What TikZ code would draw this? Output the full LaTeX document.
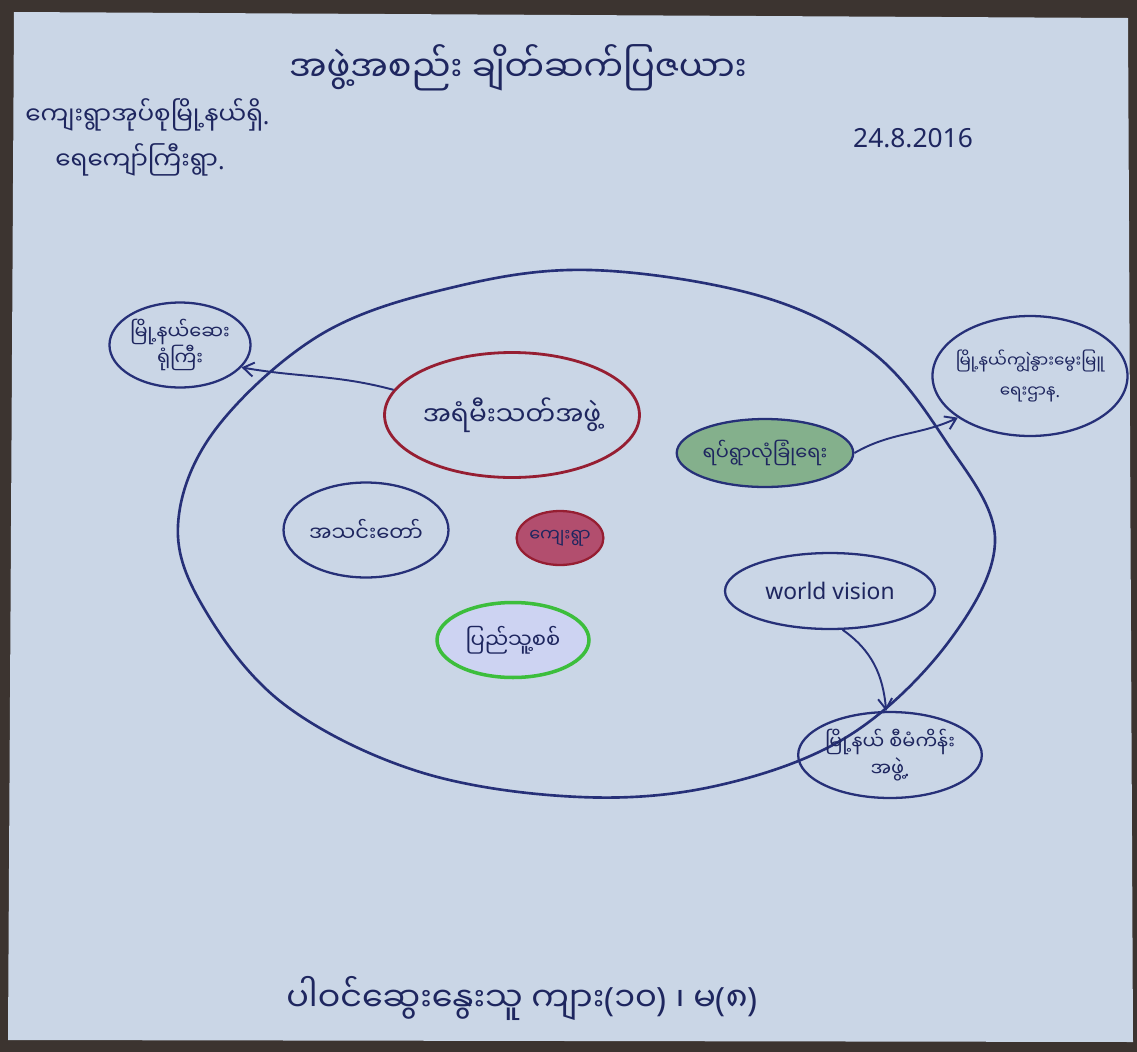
\documentclass[tikz,border=0pt]{standalone}
\usepackage{fontspec}
\newfontfamily\mm[Script=Myanmar]{Noto Sans Myanmar UI}
\newfontfamily\lt{Noto Sans}
\newcommand{\LPar}{{\lt(}}
\newcommand{\RPar}{{\lt)}}
\newcommand{\Dot}{{\lt.}}
\usetikzlibrary{arrows.meta,shapes.geometric}
\definecolor{paper}{RGB}{202,214,230}
\definecolor{edge}{RGB}{60,52,48}
\definecolor{ink}{RGB}{38,48,120}
\definecolor{txt}{RGB}{30,38,95}
\definecolor{redink}{RGB}{150,30,50}
\definecolor{redfill}{RGB}{178,78,110}
\definecolor{greenfill}{RGB}{132,176,140}
\definecolor{greenink}{RGB}{60,190,60}
\tikzset{
  ell/.style={ellipse,draw=ink,line width=1.3pt,inner sep=0pt,align=center,text=txt,font=\mm\fontsize{12}{16}\selectfont},
  link/.style={draw=ink,line width=1.1pt,-{Straight Barb[length=6pt,width=8pt]}},
  label/.style={text=txt,font=\mm\fontsize{14}{18}\selectfont,inner sep=0pt}
}
\begin{document}
\begin{tikzpicture}[x=0.02cm,y=-0.02cm]
\fill[edge] (0,0) rectangle (1137,1052);
\useasboundingbox (0,0) rectangle (1137,1052);
\fill[paper] (14,12) -- (1128,18) -- (1133,1042) -- (8,1040) -- cycle;

% title and header
\node[label,font=\mm\fontsize{20}{24}\selectfont] (title) at (518,68) {အဖွဲ့အစည်း ချိတ်ဆက်ပြဇယား};
\node[label,anchor=west] (place1) at (25,115) {ကျေးရွာအုပ်စုမြို့နယ်ရှိ\Dot};
\node[label,anchor=west] (place2) at (55,160) {ရေကျော်ကြီးရွာ\Dot};
\node[label,font=\lt\fontsize{15}{18}\selectfont] (date) at (913,138) {24.8.2016};

% outer circle (hand drawn, slightly pointed at the sides)
\draw[ink,line width=1.5pt] plot[smooth cycle,tension=0.6] coordinates {
  (590,270) (760,296) (872,352) (945,440) (995,538) (950,640) (850,735) (720,785)
  (580,797) (420,772) (285,705) (205,610) (178,525) (215,430) (320,335) (450,288)};

% inner organisations
\node[ell,draw=redink,line width=1.6pt,minimum width=5.1cm,minimum height=2.5cm,font=\mm\fontsize{15}{18}\selectfont] (fire) at (512,415) {အရံမီးသတ်အဖွဲ့};
\node[ell,fill=greenfill,minimum width=3.4cm,minimum height=1.36cm,font=\mm\fontsize{11}{14}\selectfont] (security) at (765,453) {ရပ်ရွာလုံခြုံရေး};
\node[ell,minimum width=3.3cm,minimum height=1.9cm] (church) at (366,530) {အသင်းတော်};
\node[ell,draw=redink,fill=redfill,minimum width=1.32cm,minimum height=1.08cm,font=\mm\fontsize{10}{12}\selectfont] (village) at (560,538) {ကျေးရွာ};
\node[ell,draw=greenink,line width=2pt,fill=paper!85!blue!60!white,minimum width=3.04cm,minimum height=1.5cm] (militia) at (513,640) {ပြည်သူ့စစ်};
\node[ell,minimum width=4.2cm,minimum height=1.52cm,font=\lt\fontsize{13}{16}\selectfont] (wv) at (830,591) {world vision};

% outer organisations
\node[ell,minimum width=2.8cm,minimum height=1.7cm,font=\mm\fontsize{11}{15}\selectfont] (hosp) at (180,345) {မြို့နယ်ဆေး\\ရုံကြီး};
\node[ell,inner sep=-3pt,minimum width=3.8cm,minimum height=2.4cm,font=\mm\fontsize{9.5}{17}\selectfont] (livestock) at (1030,376) {မြို့နယ်ကျွဲနွားမွေးမြူ\\ရေးဌာန\Dot};
\node[ell,minimum width=3.6cm,minimum height=1.72cm,font=\mm\fontsize{11}{15}\selectfont] (project) at (890,755) {မြို့နယ် စီမံကိန်း\\အဖွဲ့\Dot};

% links
\draw[link] (fire.168) to[out=165,in=-10] (hosp.-20);
\draw[link] (security.east) to[out=30,in=205] (livestock.210);
\draw[link] (wv.-72) to[out=-35,in=95] (project.95);

% footer
\node[label,font=\mm\fontsize{19}{24}\selectfont] (footer) at (522,998) {ပါဝင်ဆွေးနွေးသူ ကျား\LPar ၁၀\RPar\ ၊ မ\LPar ၈\RPar};
\end{tikzpicture}
\end{document}
